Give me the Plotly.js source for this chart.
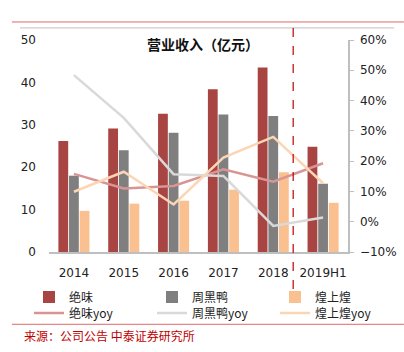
<!DOCTYPE html>
<html><head><meta charset="utf-8">
<script src="https://cdn.plot.ly/plotly-3.0.1.min.js"></script>
<style>html,body{margin:0;padding:0;background:#fff;}#chart{width:404px;height:352px;}</style>
</head><body><div id="chart"></div>
<script>
const categories = ['2014','2015','2016','2017','2018','2019H1'];
const juewei = [26.2, 29.1, 32.6, 38.4, 43.5, 24.8];
const zhouheiya = [18.0, 24.0, 28.1, 32.4, 32.1, 16.1];
const huangshanghuang = [9.7, 11.4, 12.1, 14.7, 18.8, 11.6];
const jueweiYoy = [15.8, 11.0, 11.8, 17.3, 13.2, 19.3];
const zhouheiyaYoy = [48.4, 34.3, 15.7, 15.1, -1.4, 1.4];
const huangshanghuangYoy = [9.9, 16.5, 5.7, 21.2, 28.0, 12.7];

const F = '"Noto Sans CJK SC", "Noto Sans", sans-serif';
const FN = '"DejaVu Sans", "Noto Sans CJK SC", sans-serif';
const data = [
  {type:'bar', name:'绝味', x:categories, y:juewei, marker:{color:'#A84442'}, legend:'legend2', showlegend:true},
  {type:'bar', name:'周黑鸭', x:categories, y:zhouheiya, marker:{color:'#7F7F7F'}, legend:'legend3', showlegend:true},
  {type:'bar', name:'煌上煌', x:categories, y:huangshanghuang, marker:{color:'#FAC090'}, legend:'legend4', showlegend:true},
  {type:'scatter', mode:'lines', name:'绝味yoy', x:categories, y:jueweiYoy, yaxis:'y2', line:{color:'#D99594', width:2.5}, legend:'legend5', showlegend:true},
  {type:'scatter', mode:'lines', name:'周黑鸭yoy', x:categories, y:zhouheiyaYoy, yaxis:'y2', line:{color:'#D9D9D9', width:2.5}, legend:'legend6', showlegend:true},
  {type:'scatter', mode:'lines', name:'煌上煌yoy', x:categories, y:huangshanghuangYoy, yaxis:'y2', line:{color:'#FCD5B4', width:2.5}, legend:'legend7', showlegend:true}
];
function leg(px, py) {
  return {orientation:'v', xref:'container', yref:'container', x:px/404, y:1-py/352, xanchor:'left', yanchor:'middle',
    font:{family:F, size:12, color:'#222'}, bgcolor:'rgba(0,0,0,0)', itemwidth:30, visible:true};
}
const layout = {
  width:404, height:352, showlegend:true,
  margin:{l:49, r:56, t:40, b:100, autoexpand:false},
  paper_bgcolor:'#fff', plot_bgcolor:'#fff',
  font:{family:FN, size:12, color:'#222'},
  title:{text:'<b>营业收入（亿元）</b>', font:{family:F, size:14, color:'#111'}, xref:'paper', x:0.515, xanchor:'center', yref:'container', y:1-45/352, yanchor:'middle'},
  barmode:'group', bargap:0.36, bargroupgap:0.08,
  xaxis:{type:'category', showline:true, linecolor:'#BFBFBF', linewidth:1.5, ticks:'', showgrid:false, zeroline:false, ticklabelstandoff:9, tickfont:{family:FN, size:12, color:'#222'}},
  yaxis:{range:[0,50], dtick:10, showline:false, showgrid:false, zeroline:false, ticks:'', ticklabelstandoff:12, tickfont:{family:FN, size:12, color:'#222'}},
  yaxis2:{range:[-10,60], dtick:10, overlaying:'y', side:'right', ticksuffix:'%', showline:true, linecolor:'#BFBFBF', linewidth:1.5, ticks:'outside', ticklen:4, tickcolor:'#BFBFBF', showgrid:false, zeroline:false, ticklabelstandoff:4, tickfont:{family:FN, size:12, color:'#222'}},
  legend:{visible:false},
  legend2:leg(29, 297), legend3:leg(152, 297), legend4:leg(275, 297),
  legend5:leg(29, 313), legend6:leg(152, 313), legend7:leg(275, 313),
  shapes:[
    {type:'line', xref:'paper', yref:'paper', x0:-0.124, x1:1.187, y0:1.085, y1:1.085, line:{color:'#E06666', width:1}},
    {type:'line', xref:'paper', yref:'paper', x0:-0.097, x1:1.154, y0:1.057, y1:1.057, line:{color:'#BFBFBF', width:1}},
    {type:'line', xref:'paper', yref:'paper', x0:-0.124, x1:1.187, y0:-0.341, y1:-0.341, line:{color:'#E06666', width:1}},
    {type:'line', xref:'x', yref:'paper', x0:4.4, x1:4.4, y0:1.057, y1:-0.189, line:{color:'#C00000', width:1.2, dash:'dash'}}
  ],
  annotations:[
    {text:'来源：公司公告 中泰证券研究所', xref:'paper', yref:'paper', x:-0.09, y:-0.396, xanchor:'left', yanchor:'middle', showarrow:false, font:{family:F, size:12, color:'#C00000'}}
  ]
};
Plotly.newPlot('chart', data, layout, {displayModeBar:false, staticPlot:true});
</script></body></html>
